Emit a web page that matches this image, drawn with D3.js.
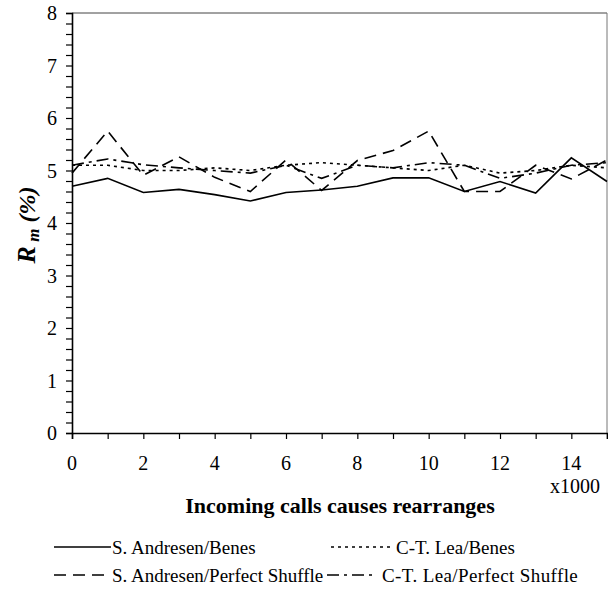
<!DOCTYPE html>
<html><head><meta charset="utf-8">
<script src="https://cdn.jsdelivr.net/npm/d3@7"></script>
<style>body{margin:0;background:#fff}svg{display:block}
text{font-family:"Liberation Serif","DejaVu Serif","Times New Roman",serif}</style>
</head><body>
<script>
const xValues = [0,1,2,3,4,5,6,7,8,9,10,11,12,13,14,15];
const andresenBenes   = [4.70,4.85,4.58,4.64,4.54,4.42,4.58,4.63,4.70,4.86,4.86,4.60,4.79,4.57,5.24,4.79];
const leaBenes        = [5.10,5.10,5.00,5.00,5.05,5.00,5.10,5.15,5.10,5.05,5.00,5.10,4.95,5.00,5.10,5.05];
const andresenShuffle = [4.95,5.75,4.91,5.26,4.87,4.60,5.20,4.62,5.19,5.38,5.75,4.60,4.60,5.10,4.84,5.20];
const leaShuffle      = [5.10,5.22,5.11,5.05,5.00,4.95,5.10,4.85,5.10,5.05,5.15,5.10,4.85,4.95,5.10,5.15];
const seriesNames = ["S. Andresen/Benes","C-T. Lea/Benes","S. Andresen/Perfect Shuffle","C-T. Lea/Perfect Shuffle"];
const xTickLabels = [0,2,4,6,8,10,12,14];
const yTickLabels = [0,1,2,3,4,5,6,7,8];

const W=608,H=595;
const svg=d3.select("body").append("svg").attr("width",W).attr("height",H);
const x=d3.scaleLinear().domain([0,15]).range([72,607]);
const y=d3.scaleLinear().domain([0,8]).range([433,13]);

// frame (top & right)
svg.append("line").attr("x1",72).attr("x2",607).attr("y1",13).attr("y2",13).attr("stroke","#444").attr("stroke-width",1);
svg.append("line").attr("x1",607).attr("x2",607).attr("y1",13).attr("y2",433).attr("stroke","#777").attr("stroke-width",1);

// y axis
const yAxis=d3.axisLeft(y).tickValues(d3.range(0,8.001,0.2)).tickSize(6).tickFormat("");
const gy=svg.append("g").attr("transform","translate(72,0)").call(yAxis);
gy.select(".domain").attr("stroke","#000").attr("stroke-width",1.6);
gy.selectAll(".tick line").attr("stroke","#000").attr("stroke-width",1.2);
svg.append("g").selectAll("text").data(yTickLabels).join("text")
  .attr("x",57).attr("y",d=>y(d)).attr("dy","0.35em").attr("text-anchor","end")
  .attr("font-size",20).text(d=>d);

// x axis
const xAxis=d3.axisBottom(x).tickValues(d3.range(0,16)).tickSize(6).tickFormat("");
const gx=svg.append("g").attr("transform","translate(0,433)").call(xAxis);
gx.select(".domain").attr("stroke","#000").attr("stroke-width",1.6);
gx.selectAll(".tick line").attr("stroke","#000").attr("stroke-width",1.2);
svg.append("g").selectAll("text").data(xTickLabels).join("text")
  .attr("x",d=>x(d)).attr("y",463).attr("dy","0.35em").attr("text-anchor","middle")
  .attr("font-size",20).text(d=>d);
svg.append("text").attr("x",575).attr("y",486).attr("dy","0.35em").attr("text-anchor","middle")
  .attr("font-size",20).text("x1000");
svg.append("text").attr("x",340).attr("y",505).attr("dy","0.35em").attr("text-anchor","middle")
  .attr("font-size",22).attr("font-weight","bold").text("Incoming calls causes rearranges");

// y title
const yt=svg.append("text").attr("transform","translate(35,225) rotate(-90)").attr("text-anchor","middle")
  .attr("font-weight","bold").attr("font-style","italic");
yt.append("tspan").attr("font-size",26).text("R");
yt.append("tspan").attr("font-size",17).attr("dy",4).text(" m");
yt.append("tspan").attr("font-size",24).attr("dy",-4).text(" (%)");

const styles=[
  {data:andresenBenes,dash:null},
  {data:leaBenes,dash:"3,4"},
  {data:andresenShuffle,dash:"12,7"},
  {data:leaShuffle,dash:"12,5,3,5"}
];
const line=d3.line().x((d,i)=>x(xValues[i])).y(d=>y(d));
svg.append("g").selectAll("path").data(styles).join("path")
  .attr("d",d=>line(d.data)).attr("fill","none").attr("stroke","#000").attr("stroke-width",1.6)
  .attr("stroke-dasharray",d=>d.dash);

// legend
const leg=[
  {x1:54,x2:111,y:547,tx:112,i:0,ls:0},
  {x1:331,x2:394,y:547,tx:396,i:1,ls:0},
  {x1:54,x2:105,y:575,tx:112,i:2,ls:0},
  {x1:327,x2:374,y:575,tx:382,i:3,ls:0.4}
];
const lg=svg.append("g");
leg.forEach(l=>{
  lg.append("line").attr("x1",l.x1).attr("x2",l.x2).attr("y1",l.y).attr("y2",l.y)
    .attr("stroke","#000").attr("stroke-width",1.4).attr("stroke-dasharray",styles[l.i].dash);
  lg.append("text").attr("x",l.tx).attr("y",l.y).attr("dy","0.35em")
    .attr("font-size",19).attr("letter-spacing",l.ls).text(seriesNames[l.i]);
});
</script>
</body></html>
